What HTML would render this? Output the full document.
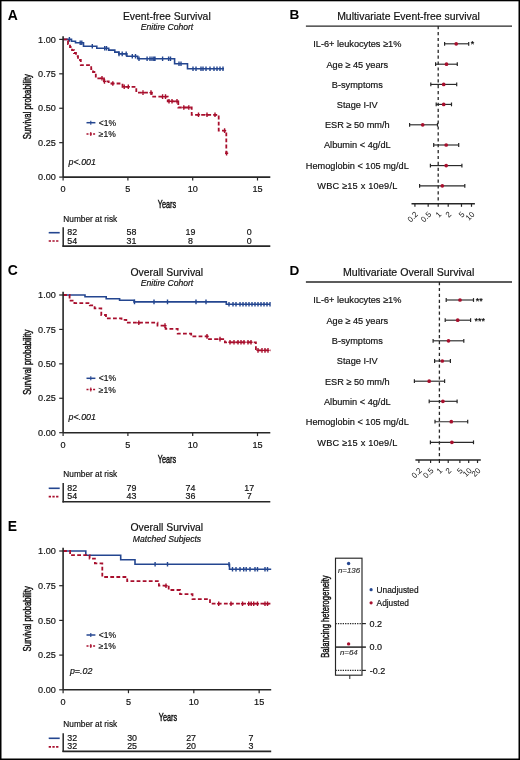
<!DOCTYPE html>
<html><head><meta charset="utf-8"><style>
html,body{margin:0;padding:0;width:520px;height:760px;overflow:hidden;background:#fff;}
svg text{font-family:"Liberation Sans", sans-serif;}
</style></head><body>
<svg width="520" height="760" viewBox="0 0 520 760" font-family="Liberation Sans" style="position:absolute;left:0;top:0;will-change:transform">
<rect width="520" height="760" fill="#fff"/>
<text x="7.80" y="19.60" font-size="13.9" text-anchor="start" font-weight="bold" fill="#000" >A</text>
<text x="166.80" y="19.90" font-size="10.4" text-anchor="middle" fill="#111111" stroke="#111111" stroke-width="0.18" >Event-free Survival</text>
<text x="167.00" y="30.10" font-size="8.6" text-anchor="middle" font-style="italic" fill="#111111" stroke="#111111" stroke-width="0.18" >Enitire Cohort</text>
<path d="M63.10,39.40 H71.50 V41.20 H75.50 V42.80 H83.50 V46.20 H96.80 V48.30 H108.70 V50.10 H114.80 V52.10 H118.80 V53.90 H126.90 V56.20 H137.70 V58.80 H174.60 V63.80 H187.50 V68.70 H224.00" fill="none" stroke="#244690" stroke-width="1.6"/>
<path d="M69.40,37.10 V41.70 M80.20,40.50 V45.10 M81.80,40.50 V45.10 M92.30,43.90 V48.50 M104.70,46.00 V50.60 M106.50,46.00 V50.60 M119.00,51.60 V56.20 M122.20,51.60 V56.20 M126.20,51.60 V56.20 M132.30,53.90 V58.50 M135.50,53.90 V58.50 M139.00,56.50 V61.10 M147.10,56.50 V61.10 M150.00,56.50 V61.10 M152.00,56.50 V61.10 M153.80,56.50 V61.10 M155.00,56.50 V61.10 M162.60,56.50 V61.10 M168.60,56.50 V61.10 M170.50,56.50 V61.10 M179.00,61.50 V66.10 M181.00,61.50 V66.10 M193.00,66.40 V71.00 M196.00,66.40 V71.00 M201.00,66.40 V71.00 M203.00,66.40 V71.00 M206.00,66.40 V71.00 M210.00,66.40 V71.00 M214.00,66.40 V71.00 M217.00,66.40 V71.00 M220.00,66.40 V71.00 M223.00,66.40 V71.00 " fill="none" stroke="#244690" stroke-width="1.4"/>
<path d="M63.10,39.40 H66.70 V41.00 H68.00 V44.00 H70.00 V47.00 H72.00 V50.20 H74.00 V53.00 H76.00 V56.20 H78.00 V60.00 H80.80 V65.20 H91.20 V69.00 H93.00 V72.00 H95.80 V78.30 H104.00 V81.40 H108.70 V83.50 H122.50 V86.80 H136.30 V92.60 H151.80 V96.60 H167.70 V101.30 H178.30 V107.50 H191.70 V114.80 H218.70 V130.60 H226.30 V153.30 H226.60" fill="none" stroke="#a80f2d" stroke-width="1.8" stroke-dasharray="3.8 2.3"/>
<path d="M102.00,76.00 V80.60 M100.40,78.30 H103.60 M104.50,79.10 V83.70 M102.90,81.40 H106.10 M112.80,81.20 V85.80 M111.20,83.50 H114.40 M124.20,84.50 V89.10 M122.60,86.80 H125.80 M128.30,84.50 V89.10 M126.70,86.80 H129.90 M143.00,90.30 V94.90 M141.40,92.60 H144.60 M151.00,90.30 V94.90 M149.40,92.60 H152.60 M162.60,94.30 V98.90 M161.00,96.60 H164.20 M165.50,94.30 V98.90 M163.90,96.60 H167.10 M169.00,99.00 V103.60 M167.40,101.30 H170.60 M172.00,99.00 V103.60 M170.40,101.30 H173.60 M177.00,99.00 V103.60 M175.40,101.30 H178.60 M183.80,105.20 V109.80 M182.20,107.50 H185.40 M188.80,105.20 V109.80 M187.20,107.50 H190.40 M198.50,112.50 V117.10 M196.90,114.80 H200.10 M207.00,112.50 V117.10 M205.40,114.80 H208.60 M215.00,112.50 V117.10 M213.40,114.80 H216.60 M224.60,128.30 V132.90 M223.00,130.60 H226.20 M226.60,151.00 V155.60 M225.00,153.30 H228.20 " fill="none" stroke="#a80f2d" stroke-width="1.4"/>
<line x1="63.10" y1="36.20" x2="63.10" y2="177.10" stroke="#262626" stroke-width="1.6" />
<line x1="63.10" y1="177.10" x2="270.30" y2="177.10" stroke="#262626" stroke-width="1.6" />
<line x1="59.20" y1="39.40" x2="63.10" y2="39.40" stroke="#262626" stroke-width="1.2" />
<text x="55.80" y="42.60" font-size="9.1" text-anchor="end" fill="#111111" stroke="#111111" stroke-width="0.18" >1.00</text>
<line x1="59.20" y1="73.82" x2="63.10" y2="73.82" stroke="#262626" stroke-width="1.2" />
<text x="55.80" y="77.02" font-size="9.1" text-anchor="end" fill="#111111" stroke="#111111" stroke-width="0.18" >0.75</text>
<line x1="59.20" y1="108.25" x2="63.10" y2="108.25" stroke="#262626" stroke-width="1.2" />
<text x="55.80" y="111.45" font-size="9.1" text-anchor="end" fill="#111111" stroke="#111111" stroke-width="0.18" >0.50</text>
<line x1="59.20" y1="142.67" x2="63.10" y2="142.67" stroke="#262626" stroke-width="1.2" />
<text x="55.80" y="145.87" font-size="9.1" text-anchor="end" fill="#111111" stroke="#111111" stroke-width="0.18" >0.25</text>
<line x1="59.20" y1="177.10" x2="63.10" y2="177.10" stroke="#262626" stroke-width="1.2" />
<text x="55.80" y="180.30" font-size="9.1" text-anchor="end" fill="#111111" stroke="#111111" stroke-width="0.18" >0.00</text>
<line x1="63.10" y1="177.10" x2="63.10" y2="180.50" stroke="#262626" stroke-width="1.2" />
<text x="63.10" y="192.30" font-size="9.1" text-anchor="middle" fill="#111111" stroke="#111111" stroke-width="0.18" >0</text>
<line x1="127.90" y1="177.10" x2="127.90" y2="180.50" stroke="#262626" stroke-width="1.2" />
<text x="127.90" y="192.30" font-size="9.1" text-anchor="middle" fill="#111111" stroke="#111111" stroke-width="0.18" >5</text>
<line x1="192.70" y1="177.10" x2="192.70" y2="180.50" stroke="#262626" stroke-width="1.2" />
<text x="192.70" y="192.30" font-size="9.1" text-anchor="middle" fill="#111111" stroke="#111111" stroke-width="0.18" >10</text>
<line x1="257.50" y1="177.10" x2="257.50" y2="180.50" stroke="#262626" stroke-width="1.2" />
<text x="257.50" y="192.30" font-size="9.1" text-anchor="middle" fill="#111111" stroke="#111111" stroke-width="0.18" >15</text>
<text transform="translate(166.90,207.70) scale(0.652,1)" font-size="11.2" text-anchor="middle" fill="#111111" stroke="#111111" stroke-width="0.45">Years</text>
<text transform="translate(31.30,106.65) rotate(-90) scale(0.665,1)" font-size="11.7" text-anchor="middle" fill="#111111" stroke="#111111" stroke-width="0.45">Survival probability</text>
<line x1="86.50" y1="122.70" x2="95.40" y2="122.70" stroke="#244690" stroke-width="1.5" />
<line x1="90.80" y1="120.70" x2="90.80" y2="124.70" stroke="#244690" stroke-width="1.1" />
<line x1="86.50" y1="134.00" x2="95.40" y2="134.00" stroke="#a80f2d" stroke-width="1.5" stroke-dasharray="2 1.3"/>
<line x1="90.80" y1="132.00" x2="90.80" y2="136.00" stroke="#a80f2d" stroke-width="1.1" />
<text x="98.80" y="125.80" font-size="8.5" text-anchor="start" fill="#111111" stroke="#111111" stroke-width="0.18" >&lt;1%</text>
<text x="98.80" y="137.00" font-size="8.5" text-anchor="start" fill="#111111" stroke="#111111" stroke-width="0.18" >≥1%</text>
<text x="68.60" y="164.60" font-size="8.9" text-anchor="start" font-style="italic" fill="#111111" stroke="#111111" stroke-width="0.18" >p&lt;.001</text>
<text x="63.30" y="221.50" font-size="8.3" text-anchor="start" fill="#111111" stroke="#111111" stroke-width="0.18" >Number at risk</text>
<line x1="63.20" y1="227.30" x2="63.20" y2="246.80" stroke="#262626" stroke-width="1.5" />
<line x1="62.45" y1="246.10" x2="270.30" y2="246.10" stroke="#262626" stroke-width="1.6" />
<line x1="48.70" y1="232.70" x2="59.70" y2="232.70" stroke="#244690" stroke-width="1.6" />
<line x1="48.70" y1="241.00" x2="59.70" y2="241.00" stroke="#a80f2d" stroke-width="1.6" stroke-dasharray="2.3 1.4"/>
<text x="72.30" y="235.30" font-size="8.9" text-anchor="middle" fill="#111111" stroke="#111111" stroke-width="0.18" >82</text>
<text x="131.40" y="235.30" font-size="8.9" text-anchor="middle" fill="#111111" stroke="#111111" stroke-width="0.18" >58</text>
<text x="190.40" y="235.30" font-size="8.9" text-anchor="middle" fill="#111111" stroke="#111111" stroke-width="0.18" >19</text>
<text x="249.20" y="235.30" font-size="8.9" text-anchor="middle" fill="#111111" stroke="#111111" stroke-width="0.18" >0</text>
<text x="72.30" y="243.50" font-size="8.9" text-anchor="middle" fill="#111111" stroke="#111111" stroke-width="0.18" >54</text>
<text x="131.40" y="243.50" font-size="8.9" text-anchor="middle" fill="#111111" stroke="#111111" stroke-width="0.18" >31</text>
<text x="190.40" y="243.50" font-size="8.9" text-anchor="middle" fill="#111111" stroke="#111111" stroke-width="0.18" >8</text>
<text x="249.20" y="243.50" font-size="8.9" text-anchor="middle" fill="#111111" stroke="#111111" stroke-width="0.18" >0</text>
<text x="7.80" y="275.20" font-size="13.9" text-anchor="start" font-weight="bold" fill="#000" >C</text>
<text x="166.80" y="275.50" font-size="10.4" text-anchor="middle" fill="#111111" stroke="#111111" stroke-width="0.18" >Overall Survival</text>
<text x="167.00" y="285.70" font-size="8.6" text-anchor="middle" font-style="italic" fill="#111111" stroke="#111111" stroke-width="0.18" >Enitire Cohort</text>
<path d="M63.10,295.00 H85.00 V296.70 H106.20 V298.70 H119.60 V300.20 H134.00 V301.90 H226.30 V304.20 H270.00" fill="none" stroke="#244690" stroke-width="1.6"/>
<path d="M134.50,299.60 V304.20 M154.00,299.60 V304.20 M167.50,299.60 V304.20 M196.00,299.60 V304.20 M206.00,299.60 V304.20 M229.00,301.90 V306.50 M233.00,301.90 V306.50 M236.00,301.90 V306.50 M240.00,301.90 V306.50 M243.00,301.90 V306.50 M246.00,301.90 V306.50 M249.00,301.90 V306.50 M252.00,301.90 V306.50 M255.00,301.90 V306.50 M258.00,301.90 V306.50 M261.00,301.90 V306.50 M264.00,301.90 V306.50 M267.00,301.90 V306.50 M270.00,301.90 V306.50 " fill="none" stroke="#244690" stroke-width="1.4"/>
<path d="M63.10,295.00 H69.60 V300.60 H74.40 V303.10 H89.80 V305.40 H94.60 V308.30 H101.30 V315.00 H106.00 V318.30 H121.50 V319.80 H126.30 V322.70 H157.50 V325.60 H165.60 V328.90 H177.70 V333.70 H191.20 V336.40 H207.40 V339.10 H224.90 V342.30 H255.90 V350.40 H270.50" fill="none" stroke="#a80f2d" stroke-width="1.8" stroke-dasharray="3.8 2.3"/>
<path d="M138.80,320.40 V325.00 M137.20,322.70 H140.40 M165.00,323.30 V327.90 M163.40,325.60 H166.60 M207.00,334.10 V338.70 M205.40,336.40 H208.60 M220.00,336.80 V341.40 M218.40,339.10 H221.60 M230.00,340.00 V344.60 M228.40,342.30 H231.60 M234.00,340.00 V344.60 M232.40,342.30 H235.60 M238.00,340.00 V344.60 M236.40,342.30 H239.60 M241.00,340.00 V344.60 M239.40,342.30 H242.60 M244.00,340.00 V344.60 M242.40,342.30 H245.60 M248.00,340.00 V344.60 M246.40,342.30 H249.60 M251.00,340.00 V344.60 M249.40,342.30 H252.60 M258.00,348.10 V352.70 M256.40,350.40 H259.60 M262.00,348.10 V352.70 M260.40,350.40 H263.60 M265.00,348.10 V352.70 M263.40,350.40 H266.60 M268.00,348.10 V352.70 M266.40,350.40 H269.60 " fill="none" stroke="#a80f2d" stroke-width="1.4"/>
<line x1="63.10" y1="291.80" x2="63.10" y2="432.70" stroke="#262626" stroke-width="1.6" />
<line x1="63.10" y1="432.70" x2="270.30" y2="432.70" stroke="#262626" stroke-width="1.6" />
<line x1="59.20" y1="295.00" x2="63.10" y2="295.00" stroke="#262626" stroke-width="1.2" />
<text x="55.80" y="298.20" font-size="9.1" text-anchor="end" fill="#111111" stroke="#111111" stroke-width="0.18" >1.00</text>
<line x1="59.20" y1="329.43" x2="63.10" y2="329.43" stroke="#262626" stroke-width="1.2" />
<text x="55.80" y="332.62" font-size="9.1" text-anchor="end" fill="#111111" stroke="#111111" stroke-width="0.18" >0.75</text>
<line x1="59.20" y1="363.85" x2="63.10" y2="363.85" stroke="#262626" stroke-width="1.2" />
<text x="55.80" y="367.05" font-size="9.1" text-anchor="end" fill="#111111" stroke="#111111" stroke-width="0.18" >0.50</text>
<line x1="59.20" y1="398.27" x2="63.10" y2="398.27" stroke="#262626" stroke-width="1.2" />
<text x="55.80" y="401.47" font-size="9.1" text-anchor="end" fill="#111111" stroke="#111111" stroke-width="0.18" >0.25</text>
<line x1="59.20" y1="432.70" x2="63.10" y2="432.70" stroke="#262626" stroke-width="1.2" />
<text x="55.80" y="435.90" font-size="9.1" text-anchor="end" fill="#111111" stroke="#111111" stroke-width="0.18" >0.00</text>
<line x1="63.10" y1="432.70" x2="63.10" y2="436.10" stroke="#262626" stroke-width="1.2" />
<text x="63.10" y="447.90" font-size="9.1" text-anchor="middle" fill="#111111" stroke="#111111" stroke-width="0.18" >0</text>
<line x1="127.90" y1="432.70" x2="127.90" y2="436.10" stroke="#262626" stroke-width="1.2" />
<text x="127.90" y="447.90" font-size="9.1" text-anchor="middle" fill="#111111" stroke="#111111" stroke-width="0.18" >5</text>
<line x1="192.70" y1="432.70" x2="192.70" y2="436.10" stroke="#262626" stroke-width="1.2" />
<text x="192.70" y="447.90" font-size="9.1" text-anchor="middle" fill="#111111" stroke="#111111" stroke-width="0.18" >10</text>
<line x1="257.50" y1="432.70" x2="257.50" y2="436.10" stroke="#262626" stroke-width="1.2" />
<text x="257.50" y="447.90" font-size="9.1" text-anchor="middle" fill="#111111" stroke="#111111" stroke-width="0.18" >15</text>
<text transform="translate(166.90,463.30) scale(0.652,1)" font-size="11.2" text-anchor="middle" fill="#111111" stroke="#111111" stroke-width="0.45">Years</text>
<text transform="translate(31.30,362.25) rotate(-90) scale(0.665,1)" font-size="11.7" text-anchor="middle" fill="#111111" stroke="#111111" stroke-width="0.45">Survival probability</text>
<line x1="86.50" y1="378.30" x2="95.40" y2="378.30" stroke="#244690" stroke-width="1.5" />
<line x1="90.80" y1="376.30" x2="90.80" y2="380.30" stroke="#244690" stroke-width="1.1" />
<line x1="86.50" y1="389.60" x2="95.40" y2="389.60" stroke="#a80f2d" stroke-width="1.5" stroke-dasharray="2 1.3"/>
<line x1="90.80" y1="387.60" x2="90.80" y2="391.60" stroke="#a80f2d" stroke-width="1.1" />
<text x="98.80" y="381.40" font-size="8.5" text-anchor="start" fill="#111111" stroke="#111111" stroke-width="0.18" >&lt;1%</text>
<text x="98.80" y="392.60" font-size="8.5" text-anchor="start" fill="#111111" stroke="#111111" stroke-width="0.18" >≥1%</text>
<text x="68.60" y="420.20" font-size="8.9" text-anchor="start" font-style="italic" fill="#111111" stroke="#111111" stroke-width="0.18" >p&lt;.001</text>
<text x="63.30" y="477.10" font-size="8.3" text-anchor="start" fill="#111111" stroke="#111111" stroke-width="0.18" >Number at risk</text>
<line x1="63.20" y1="482.90" x2="63.20" y2="502.40" stroke="#262626" stroke-width="1.5" />
<line x1="62.45" y1="501.70" x2="270.30" y2="501.70" stroke="#262626" stroke-width="1.6" />
<line x1="48.70" y1="488.30" x2="59.70" y2="488.30" stroke="#244690" stroke-width="1.6" />
<line x1="48.70" y1="496.60" x2="59.70" y2="496.60" stroke="#a80f2d" stroke-width="1.6" stroke-dasharray="2.3 1.4"/>
<text x="72.30" y="490.90" font-size="8.9" text-anchor="middle" fill="#111111" stroke="#111111" stroke-width="0.18" >82</text>
<text x="131.40" y="490.90" font-size="8.9" text-anchor="middle" fill="#111111" stroke="#111111" stroke-width="0.18" >79</text>
<text x="190.40" y="490.90" font-size="8.9" text-anchor="middle" fill="#111111" stroke="#111111" stroke-width="0.18" >74</text>
<text x="249.20" y="490.90" font-size="8.9" text-anchor="middle" fill="#111111" stroke="#111111" stroke-width="0.18" >17</text>
<text x="72.30" y="499.10" font-size="8.9" text-anchor="middle" fill="#111111" stroke="#111111" stroke-width="0.18" >54</text>
<text x="131.40" y="499.10" font-size="8.9" text-anchor="middle" fill="#111111" stroke="#111111" stroke-width="0.18" >43</text>
<text x="190.40" y="499.10" font-size="8.9" text-anchor="middle" fill="#111111" stroke="#111111" stroke-width="0.18" >36</text>
<text x="249.20" y="499.10" font-size="8.9" text-anchor="middle" fill="#111111" stroke="#111111" stroke-width="0.18" >7</text>
<text x="7.80" y="530.70" font-size="13.9" text-anchor="start" font-weight="bold" fill="#000" >E</text>
<text x="166.80" y="530.60" font-size="10.4" text-anchor="middle" fill="#111111" stroke="#111111" stroke-width="0.18" >Overall Survival</text>
<text x="167.00" y="541.70" font-size="8.6" text-anchor="middle" font-style="italic" fill="#111111" stroke="#111111" stroke-width="0.18" >Matched Subjects</text>
<path d="M63.10,551.00 H85.80 V555.20 H120.70 V559.70 H135.00 V564.20 H229.50 V569.20 H271.20" fill="none" stroke="#244690" stroke-width="1.6"/>
<path d="M155.10,561.90 V566.50 M167.50,561.90 V566.50 M229.00,561.90 V566.50 M232.50,566.90 V571.50 M236.00,566.90 V571.50 M240.00,566.90 V571.50 M243.70,566.90 V571.50 M246.20,566.90 V571.50 M250.00,566.90 V571.50 M255.00,566.90 V571.50 M257.50,566.90 V571.50 M265.00,566.90 V571.50 M267.50,566.90 V571.50 " fill="none" stroke="#244690" stroke-width="1.4"/>
<path d="M63.10,551.00 H70.10 V555.20 H89.60 V558.60 H94.90 V563.30 H102.30 V577.00 H127.20 V581.20 H158.90 V585.70 H168.70 V590.00 H180.00 V594.20 H192.50 V599.20 H210.00 V603.70 H271.20" fill="none" stroke="#a80f2d" stroke-width="1.8" stroke-dasharray="3.8 2.3"/>
<path d="M166.00,583.40 V588.00 M164.40,585.70 H167.60 M218.70,601.40 V606.00 M217.10,603.70 H220.30 M231.00,601.40 V606.00 M229.40,603.70 H232.60 M242.50,601.40 V606.00 M240.90,603.70 H244.10 M248.70,601.40 V606.00 M247.10,603.70 H250.30 M251.20,601.40 V606.00 M249.60,603.70 H252.80 M253.70,601.40 V606.00 M252.10,603.70 H255.30 M257.50,601.40 V606.00 M255.90,603.70 H259.10 M265.00,601.40 V606.00 M263.40,603.70 H266.60 M267.50,601.40 V606.00 M265.90,603.70 H269.10 " fill="none" stroke="#a80f2d" stroke-width="1.4"/>
<line x1="63.10" y1="547.80" x2="63.10" y2="689.80" stroke="#262626" stroke-width="1.6" />
<line x1="63.10" y1="689.80" x2="271.20" y2="689.80" stroke="#262626" stroke-width="1.6" />
<line x1="59.20" y1="551.00" x2="63.10" y2="551.00" stroke="#262626" stroke-width="1.2" />
<text x="55.80" y="554.20" font-size="9.1" text-anchor="end" fill="#111111" stroke="#111111" stroke-width="0.18" >1.00</text>
<line x1="59.20" y1="585.70" x2="63.10" y2="585.70" stroke="#262626" stroke-width="1.2" />
<text x="55.80" y="588.90" font-size="9.1" text-anchor="end" fill="#111111" stroke="#111111" stroke-width="0.18" >0.75</text>
<line x1="59.20" y1="620.40" x2="63.10" y2="620.40" stroke="#262626" stroke-width="1.2" />
<text x="55.80" y="623.60" font-size="9.1" text-anchor="end" fill="#111111" stroke="#111111" stroke-width="0.18" >0.50</text>
<line x1="59.20" y1="655.10" x2="63.10" y2="655.10" stroke="#262626" stroke-width="1.2" />
<text x="55.80" y="658.30" font-size="9.1" text-anchor="end" fill="#111111" stroke="#111111" stroke-width="0.18" >0.25</text>
<line x1="59.20" y1="689.80" x2="63.10" y2="689.80" stroke="#262626" stroke-width="1.2" />
<text x="55.80" y="693.00" font-size="9.1" text-anchor="end" fill="#111111" stroke="#111111" stroke-width="0.18" >0.00</text>
<line x1="63.10" y1="689.80" x2="63.10" y2="693.20" stroke="#262626" stroke-width="1.2" />
<text x="63.10" y="705.00" font-size="9.1" text-anchor="middle" fill="#111111" stroke="#111111" stroke-width="0.18" >0</text>
<line x1="128.45" y1="689.80" x2="128.45" y2="693.20" stroke="#262626" stroke-width="1.2" />
<text x="128.45" y="705.00" font-size="9.1" text-anchor="middle" fill="#111111" stroke="#111111" stroke-width="0.18" >5</text>
<line x1="193.80" y1="689.80" x2="193.80" y2="693.20" stroke="#262626" stroke-width="1.2" />
<text x="193.80" y="705.00" font-size="9.1" text-anchor="middle" fill="#111111" stroke="#111111" stroke-width="0.18" >10</text>
<line x1="259.15" y1="689.80" x2="259.15" y2="693.20" stroke="#262626" stroke-width="1.2" />
<text x="259.15" y="705.00" font-size="9.1" text-anchor="middle" fill="#111111" stroke="#111111" stroke-width="0.18" >15</text>
<text transform="translate(167.90,721.10) scale(0.652,1)" font-size="11.2" text-anchor="middle" fill="#111111" stroke="#111111" stroke-width="0.45">Years</text>
<text transform="translate(31.30,618.80) rotate(-90) scale(0.665,1)" font-size="11.7" text-anchor="middle" fill="#111111" stroke="#111111" stroke-width="0.45">Survival probability</text>
<line x1="86.50" y1="635.00" x2="95.40" y2="635.00" stroke="#244690" stroke-width="1.5" />
<line x1="90.80" y1="633.00" x2="90.80" y2="637.00" stroke="#244690" stroke-width="1.1" />
<line x1="86.50" y1="646.00" x2="95.40" y2="646.00" stroke="#a80f2d" stroke-width="1.5" stroke-dasharray="2 1.3"/>
<line x1="90.80" y1="644.00" x2="90.80" y2="648.00" stroke="#a80f2d" stroke-width="1.1" />
<text x="98.80" y="638.10" font-size="8.5" text-anchor="start" fill="#111111" stroke="#111111" stroke-width="0.18" >&lt;1%</text>
<text x="98.80" y="649.00" font-size="8.5" text-anchor="start" fill="#111111" stroke="#111111" stroke-width="0.18" >≥1%</text>
<text x="69.90" y="674.10" font-size="8.9" text-anchor="start" font-style="italic" fill="#111111" stroke="#111111" stroke-width="0.18" >p=.02</text>
<text x="63.30" y="727.00" font-size="8.3" text-anchor="start" fill="#111111" stroke="#111111" stroke-width="0.18" >Number at risk</text>
<line x1="63.20" y1="733.30" x2="63.20" y2="752.10" stroke="#262626" stroke-width="1.5" />
<line x1="62.45" y1="751.40" x2="271.20" y2="751.40" stroke="#262626" stroke-width="1.6" />
<line x1="48.70" y1="738.30" x2="59.70" y2="738.30" stroke="#244690" stroke-width="1.6" />
<line x1="48.70" y1="746.90" x2="59.70" y2="746.90" stroke="#a80f2d" stroke-width="1.6" stroke-dasharray="2.3 1.4"/>
<text x="72.30" y="740.80" font-size="8.9" text-anchor="middle" fill="#111111" stroke="#111111" stroke-width="0.18" >32</text>
<text x="132.10" y="740.80" font-size="8.9" text-anchor="middle" fill="#111111" stroke="#111111" stroke-width="0.18" >30</text>
<text x="191.10" y="740.80" font-size="8.9" text-anchor="middle" fill="#111111" stroke="#111111" stroke-width="0.18" >27</text>
<text x="250.90" y="740.80" font-size="8.9" text-anchor="middle" fill="#111111" stroke="#111111" stroke-width="0.18" >7</text>
<text x="72.30" y="749.10" font-size="8.9" text-anchor="middle" fill="#111111" stroke="#111111" stroke-width="0.18" >32</text>
<text x="132.10" y="749.10" font-size="8.9" text-anchor="middle" fill="#111111" stroke="#111111" stroke-width="0.18" >25</text>
<text x="191.10" y="749.10" font-size="8.9" text-anchor="middle" fill="#111111" stroke="#111111" stroke-width="0.18" >20</text>
<text x="250.90" y="749.10" font-size="8.9" text-anchor="middle" fill="#111111" stroke="#111111" stroke-width="0.18" >3</text>
<text x="289.50" y="19.30" font-size="13.6" text-anchor="start" font-weight="bold" fill="#000" >B</text>
<text x="408.50" y="19.60" font-size="10.45" text-anchor="middle" fill="#111111" stroke="#111111" stroke-width="0.18" >Multivariate Event-free survival</text>
<line x1="305.90" y1="26.10" x2="512.00" y2="26.10" stroke="#262626" stroke-width="1.4" />
<text x="357.30" y="47.20" font-size="9.2" text-anchor="middle" fill="#111111" stroke="#111111" stroke-width="0.18" >IL-6+ leukocytes ≥1%</text>
<text x="357.30" y="67.60" font-size="9.2" text-anchor="middle" fill="#111111" stroke="#111111" stroke-width="0.18" >Age ≥ 45 years</text>
<text x="357.30" y="87.80" font-size="9.2" text-anchor="middle" fill="#111111" stroke="#111111" stroke-width="0.18" >B-symptoms</text>
<text x="357.30" y="107.80" font-size="9.2" text-anchor="middle" fill="#111111" stroke="#111111" stroke-width="0.18" >Stage I-IV</text>
<text x="357.30" y="128.20" font-size="9.2" text-anchor="middle" fill="#111111" stroke="#111111" stroke-width="0.18" >ESR ≥ 50 mm/h</text>
<text x="357.30" y="148.40" font-size="9.2" text-anchor="middle" fill="#111111" stroke="#111111" stroke-width="0.18" >Albumin &lt; 4g/dL</text>
<text x="357.30" y="169.00" font-size="9.2" text-anchor="middle" fill="#111111" stroke="#111111" stroke-width="0.18" >Hemoglobin &lt; 105 mg/dL</text>
<text x="357.30" y="189.20" font-size="9.2" text-anchor="middle" fill="#111111" stroke="#111111" stroke-width="0.18" textLength="80" lengthAdjust="spacing">WBC ≥15 x 10e9/L</text>
<line x1="438.20" y1="26.10" x2="438.20" y2="203.80" stroke="#262626" stroke-width="1.3" stroke-dasharray="3.2 2.7"/>
<line x1="444.60" y1="43.80" x2="468.70" y2="43.80" stroke="#2a2a2a" stroke-width="1.15" />
<line x1="444.60" y1="41.90" x2="444.60" y2="45.70" stroke="#262626" stroke-width="1.2" />
<line x1="468.70" y1="41.90" x2="468.70" y2="45.70" stroke="#262626" stroke-width="1.2" />
<circle cx="456.20" cy="43.80" r="1.85" fill="#a80f2d"/>
<line x1="435.60" y1="64.20" x2="457.30" y2="64.20" stroke="#2a2a2a" stroke-width="1.15" />
<line x1="435.60" y1="62.30" x2="435.60" y2="66.10" stroke="#262626" stroke-width="1.2" />
<line x1="457.30" y1="62.30" x2="457.30" y2="66.10" stroke="#262626" stroke-width="1.2" />
<circle cx="446.50" cy="64.20" r="1.85" fill="#a80f2d"/>
<line x1="430.80" y1="84.40" x2="456.70" y2="84.40" stroke="#2a2a2a" stroke-width="1.15" />
<line x1="430.80" y1="82.50" x2="430.80" y2="86.30" stroke="#262626" stroke-width="1.2" />
<line x1="456.70" y1="82.50" x2="456.70" y2="86.30" stroke="#262626" stroke-width="1.2" />
<circle cx="443.70" cy="84.40" r="1.85" fill="#a80f2d"/>
<line x1="436.20" y1="104.40" x2="451.50" y2="104.40" stroke="#2a2a2a" stroke-width="1.15" />
<line x1="436.20" y1="102.50" x2="436.20" y2="106.30" stroke="#262626" stroke-width="1.2" />
<line x1="451.50" y1="102.50" x2="451.50" y2="106.30" stroke="#262626" stroke-width="1.2" />
<circle cx="443.70" cy="104.40" r="1.85" fill="#a80f2d"/>
<line x1="409.60" y1="124.80" x2="437.50" y2="124.80" stroke="#2a2a2a" stroke-width="1.15" />
<line x1="409.60" y1="122.90" x2="409.60" y2="126.70" stroke="#262626" stroke-width="1.2" />
<line x1="437.50" y1="122.90" x2="437.50" y2="126.70" stroke="#262626" stroke-width="1.2" />
<circle cx="422.70" cy="124.80" r="1.85" fill="#a80f2d"/>
<line x1="433.70" y1="145.00" x2="458.70" y2="145.00" stroke="#2a2a2a" stroke-width="1.15" />
<line x1="433.70" y1="143.10" x2="433.70" y2="146.90" stroke="#262626" stroke-width="1.2" />
<line x1="458.70" y1="143.10" x2="458.70" y2="146.90" stroke="#262626" stroke-width="1.2" />
<circle cx="446.20" cy="145.00" r="1.85" fill="#a80f2d"/>
<line x1="430.40" y1="165.60" x2="461.90" y2="165.60" stroke="#2a2a2a" stroke-width="1.15" />
<line x1="430.40" y1="163.70" x2="430.40" y2="167.50" stroke="#262626" stroke-width="1.2" />
<line x1="461.90" y1="163.70" x2="461.90" y2="167.50" stroke="#262626" stroke-width="1.2" />
<circle cx="446.20" cy="165.60" r="1.85" fill="#a80f2d"/>
<line x1="419.60" y1="185.80" x2="464.80" y2="185.80" stroke="#2a2a2a" stroke-width="1.15" />
<line x1="419.60" y1="183.90" x2="419.60" y2="187.70" stroke="#262626" stroke-width="1.2" />
<line x1="464.80" y1="183.90" x2="464.80" y2="187.70" stroke="#262626" stroke-width="1.2" />
<circle cx="442.30" cy="185.80" r="1.85" fill="#a80f2d"/>
<line x1="411.50" y1="203.80" x2="474.90" y2="203.80" stroke="#262626" stroke-width="1.5" />
<line x1="414.92" y1="203.80" x2="414.92" y2="206.80" stroke="#262626" stroke-width="1.2" />
<text transform="translate(418.52,214.80) rotate(-45)" font-size="8" text-anchor="end" fill="#111111">0.2</text>
<line x1="428.18" y1="203.80" x2="428.18" y2="206.80" stroke="#262626" stroke-width="1.2" />
<text transform="translate(431.78,214.80) rotate(-45)" font-size="8" text-anchor="end" fill="#111111">0.5</text>
<line x1="438.20" y1="203.80" x2="438.20" y2="206.80" stroke="#262626" stroke-width="1.2" />
<text transform="translate(441.80,214.80) rotate(-45)" font-size="8" text-anchor="end" fill="#111111">1</text>
<line x1="448.22" y1="203.80" x2="448.22" y2="206.80" stroke="#262626" stroke-width="1.2" />
<text transform="translate(451.82,214.80) rotate(-45)" font-size="8" text-anchor="end" fill="#111111">2</text>
<line x1="461.48" y1="203.80" x2="461.48" y2="206.80" stroke="#262626" stroke-width="1.2" />
<text transform="translate(465.08,214.80) rotate(-45)" font-size="8" text-anchor="end" fill="#111111">5</text>
<line x1="471.50" y1="203.80" x2="471.50" y2="206.80" stroke="#262626" stroke-width="1.2" />
<text transform="translate(475.10,214.80) rotate(-45)" font-size="8" text-anchor="end" fill="#111111">10</text>
<text x="470.70" y="46.80" font-size="9" text-anchor="start" fill="#000" stroke="#000" stroke-width="0.18" >*</text>
<text x="289.50" y="275.20" font-size="13.6" text-anchor="start" font-weight="bold" fill="#000" >D</text>
<text x="408.70" y="275.50" font-size="10.6" text-anchor="middle" fill="#111111" stroke="#111111" stroke-width="0.18" >Multivariate Overall Survival</text>
<line x1="305.90" y1="282.00" x2="512.00" y2="282.00" stroke="#262626" stroke-width="1.4" />
<text x="357.30" y="303.40" font-size="9.2" text-anchor="middle" fill="#111111" stroke="#111111" stroke-width="0.18" >IL-6+ leukocytes ≥1%</text>
<text x="357.30" y="323.60" font-size="9.2" text-anchor="middle" fill="#111111" stroke="#111111" stroke-width="0.18" >Age ≥ 45 years</text>
<text x="357.30" y="344.20" font-size="9.2" text-anchor="middle" fill="#111111" stroke="#111111" stroke-width="0.18" >B-symptoms</text>
<text x="357.30" y="364.40" font-size="9.2" text-anchor="middle" fill="#111111" stroke="#111111" stroke-width="0.18" >Stage I-IV</text>
<text x="357.30" y="384.60" font-size="9.2" text-anchor="middle" fill="#111111" stroke="#111111" stroke-width="0.18" >ESR ≥ 50 mm/h</text>
<text x="357.30" y="404.70" font-size="9.2" text-anchor="middle" fill="#111111" stroke="#111111" stroke-width="0.18" >Albumin &lt; 4g/dL</text>
<text x="357.30" y="425.10" font-size="9.2" text-anchor="middle" fill="#111111" stroke="#111111" stroke-width="0.18" >Hemoglobin &lt; 105 mg/dL</text>
<text x="357.30" y="445.70" font-size="9.2" text-anchor="middle" fill="#111111" stroke="#111111" stroke-width="0.18" textLength="80" lengthAdjust="spacing">WBC ≥15 x 10e9/L</text>
<line x1="439.40" y1="282.00" x2="439.40" y2="460.00" stroke="#262626" stroke-width="1.3" stroke-dasharray="3.2 2.7"/>
<line x1="446.20" y1="300.00" x2="473.50" y2="300.00" stroke="#2a2a2a" stroke-width="1.15" />
<line x1="446.20" y1="298.10" x2="446.20" y2="301.90" stroke="#262626" stroke-width="1.2" />
<line x1="473.50" y1="298.10" x2="473.50" y2="301.90" stroke="#262626" stroke-width="1.2" />
<circle cx="460.00" cy="300.00" r="1.85" fill="#a80f2d"/>
<line x1="445.20" y1="320.20" x2="470.60" y2="320.20" stroke="#2a2a2a" stroke-width="1.15" />
<line x1="445.20" y1="318.30" x2="445.20" y2="322.10" stroke="#262626" stroke-width="1.2" />
<line x1="470.60" y1="318.30" x2="470.60" y2="322.10" stroke="#262626" stroke-width="1.2" />
<circle cx="457.70" cy="320.20" r="1.85" fill="#a80f2d"/>
<line x1="433.10" y1="340.80" x2="463.80" y2="340.80" stroke="#2a2a2a" stroke-width="1.15" />
<line x1="433.10" y1="338.90" x2="433.10" y2="342.70" stroke="#262626" stroke-width="1.2" />
<line x1="463.80" y1="338.90" x2="463.80" y2="342.70" stroke="#262626" stroke-width="1.2" />
<circle cx="448.50" cy="340.80" r="1.85" fill="#a80f2d"/>
<line x1="434.60" y1="361.00" x2="450.40" y2="361.00" stroke="#2a2a2a" stroke-width="1.15" />
<line x1="434.60" y1="359.10" x2="434.60" y2="362.90" stroke="#262626" stroke-width="1.2" />
<line x1="450.40" y1="359.10" x2="450.40" y2="362.90" stroke="#262626" stroke-width="1.2" />
<circle cx="442.30" cy="361.00" r="1.85" fill="#a80f2d"/>
<line x1="414.40" y1="381.20" x2="444.60" y2="381.20" stroke="#2a2a2a" stroke-width="1.15" />
<line x1="414.40" y1="379.30" x2="414.40" y2="383.10" stroke="#262626" stroke-width="1.2" />
<line x1="444.60" y1="379.30" x2="444.60" y2="383.10" stroke="#262626" stroke-width="1.2" />
<circle cx="429.20" cy="381.20" r="1.85" fill="#a80f2d"/>
<line x1="429.20" y1="401.30" x2="457.10" y2="401.30" stroke="#2a2a2a" stroke-width="1.15" />
<line x1="429.20" y1="399.40" x2="429.20" y2="403.20" stroke="#262626" stroke-width="1.2" />
<line x1="457.10" y1="399.40" x2="457.10" y2="403.20" stroke="#262626" stroke-width="1.2" />
<circle cx="442.90" cy="401.30" r="1.85" fill="#a80f2d"/>
<line x1="435.00" y1="421.70" x2="467.70" y2="421.70" stroke="#2a2a2a" stroke-width="1.15" />
<line x1="435.00" y1="419.80" x2="435.00" y2="423.60" stroke="#262626" stroke-width="1.2" />
<line x1="467.70" y1="419.80" x2="467.70" y2="423.60" stroke="#262626" stroke-width="1.2" />
<circle cx="451.30" cy="421.70" r="1.85" fill="#a80f2d"/>
<line x1="430.40" y1="442.30" x2="473.50" y2="442.30" stroke="#2a2a2a" stroke-width="1.15" />
<line x1="430.40" y1="440.40" x2="430.40" y2="444.20" stroke="#262626" stroke-width="1.2" />
<line x1="473.50" y1="440.40" x2="473.50" y2="444.20" stroke="#262626" stroke-width="1.2" />
<circle cx="451.90" cy="442.30" r="1.85" fill="#a80f2d"/>
<line x1="415.40" y1="460.00" x2="480.80" y2="460.00" stroke="#262626" stroke-width="1.5" />
<line x1="418.92" y1="460.00" x2="418.92" y2="463.00" stroke="#262626" stroke-width="1.2" />
<text transform="translate(422.52,471.00) rotate(-45)" font-size="8" text-anchor="end" fill="#111111">0.2</text>
<line x1="430.58" y1="460.00" x2="430.58" y2="463.00" stroke="#262626" stroke-width="1.2" />
<text transform="translate(434.18,471.00) rotate(-45)" font-size="8" text-anchor="end" fill="#111111">0.5</text>
<line x1="439.40" y1="460.00" x2="439.40" y2="463.00" stroke="#262626" stroke-width="1.2" />
<text transform="translate(443.00,471.00) rotate(-45)" font-size="8" text-anchor="end" fill="#111111">1</text>
<line x1="448.22" y1="460.00" x2="448.22" y2="463.00" stroke="#262626" stroke-width="1.2" />
<text transform="translate(451.82,471.00) rotate(-45)" font-size="8" text-anchor="end" fill="#111111">2</text>
<line x1="459.88" y1="460.00" x2="459.88" y2="463.00" stroke="#262626" stroke-width="1.2" />
<text transform="translate(463.48,471.00) rotate(-45)" font-size="8" text-anchor="end" fill="#111111">5</text>
<line x1="468.70" y1="460.00" x2="468.70" y2="463.00" stroke="#262626" stroke-width="1.2" />
<text transform="translate(472.30,471.00) rotate(-45)" font-size="8" text-anchor="end" fill="#111111">10</text>
<line x1="477.52" y1="460.00" x2="477.52" y2="463.00" stroke="#262626" stroke-width="1.2" />
<text transform="translate(481.12,471.00) rotate(-45)" font-size="8" text-anchor="end" fill="#111111">20</text>
<text x="475.80" y="303.50" font-size="9" text-anchor="start" fill="#000" stroke="#000" stroke-width="0.18" >**</text>
<text x="474.40" y="323.70" font-size="9" text-anchor="start" fill="#000" stroke="#000" stroke-width="0.18" >***</text>
<rect x="335.5" y="558.2" width="26.5" height="117" fill="none" stroke="#262626" stroke-width="1.15"/>
<line x1="335.50" y1="647.10" x2="365.90" y2="647.10" stroke="#262626" stroke-width="1.5" />
<line x1="335.50" y1="623.60" x2="362.00" y2="623.60" stroke="#262626" stroke-width="1.2" stroke-dasharray="1.3 1.1"/>
<line x1="335.50" y1="670.40" x2="362.00" y2="670.40" stroke="#262626" stroke-width="1.2" stroke-dasharray="1.3 1.1"/>
<line x1="362.00" y1="623.60" x2="365.90" y2="623.60" stroke="#262626" stroke-width="1.2" />
<line x1="362.00" y1="670.40" x2="365.90" y2="670.40" stroke="#262626" stroke-width="1.2" />
<line x1="349.80" y1="675.20" x2="349.80" y2="679.00" stroke="#262626" stroke-width="1.0" />
<circle cx="348.6" cy="563.5" r="1.7" fill="#244690"/>
<circle cx="348.6" cy="643.9" r="1.7" fill="#a80f2d"/>
<text x="349.00" y="573.10" font-size="7.9" text-anchor="middle" font-style="italic" fill="#333" stroke="#333" stroke-width="0.18" >n=136</text>
<text x="348.80" y="654.50" font-size="7.9" text-anchor="middle" font-style="italic" fill="#333" stroke="#333" stroke-width="0.18" >n=64</text>
<text x="369.50" y="626.90" font-size="9.0" text-anchor="start" fill="#111111" stroke="#111111" stroke-width="0.18" >0.2</text>
<text x="369.50" y="650.10" font-size="9.0" text-anchor="start" fill="#111111" stroke="#111111" stroke-width="0.18" >0.0</text>
<text x="369.80" y="673.50" font-size="9.0" text-anchor="start" fill="#111111" stroke="#111111" stroke-width="0.18" >-0.2</text>
<circle cx="371.1" cy="589.7" r="1.6" fill="#244690"/>
<circle cx="371.1" cy="602.8" r="1.6" fill="#a80f2d"/>
<text x="376.60" y="592.80" font-size="8.3" text-anchor="start" fill="#111111" stroke="#111111" stroke-width="0.18" >Unadjusted</text>
<text x="376.60" y="605.80" font-size="8.3" text-anchor="start" fill="#111111" stroke="#111111" stroke-width="0.18" >Adjusted</text>
<text transform="translate(329.10,616.60) rotate(-90) scale(0.7,1)" font-size="11.0" text-anchor="middle" fill="#111111" stroke="#111111" stroke-width="0.45">Balancing heterogeneity</text>
<rect x="0" y="0" width="520" height="1.3" fill="#000"/>
<rect x="0" y="0" width="1.5" height="760" fill="#000"/>
<rect x="518.5" y="0" width="1.5" height="760" fill="#000"/>
<rect x="0" y="758.5" width="520" height="1.5" fill="#000"/>
</svg>
</body></html>
